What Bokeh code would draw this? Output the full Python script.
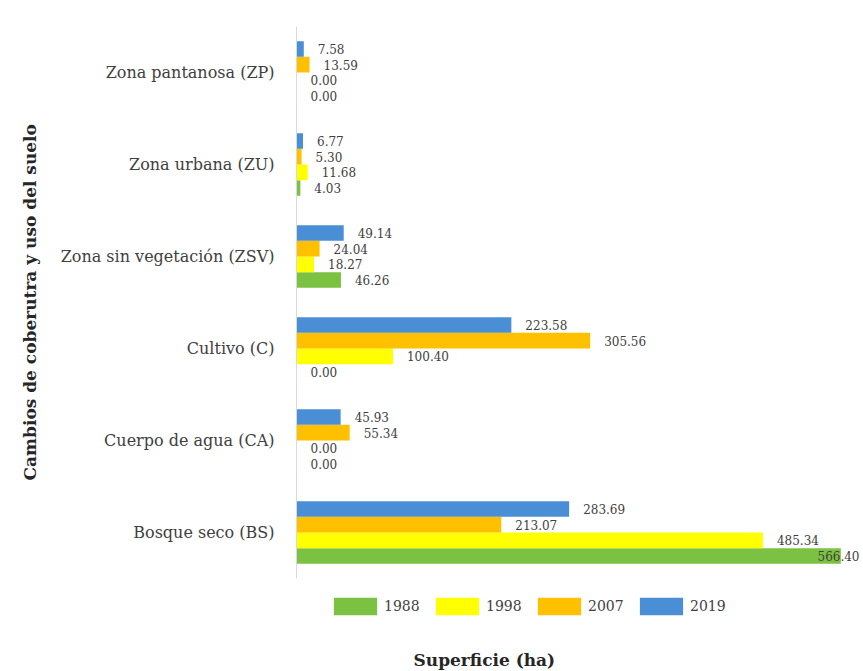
from bokeh.plotting import figure
from bokeh.models import (ColumnDataSource, Range1d, Legend, LegendItem, Label,
                          FixedTicker, Title)
from bokeh.transform import dodge
from bokeh.embed import file_html
from bokeh.resources import INLINE
from bokeh.core.properties import value

# Land cover / land use classes, bottom to top on the axis
categories = ["Bosque seco (BS)", "Cuerpo de agua (CA)", "Cultivo (C)",
              "Zona sin vegetación (ZSV)", "Zona urbana (ZU)", "Zona pantanosa (ZP)"]

# Surface (ha) per year, same order as categories
ha_1988 = [566.40, 0.00, 0.00, 46.26, 4.03, 0.00]
ha_1998 = [485.34, 0.00, 100.40, 18.27, 11.68, 0.00]
ha_2007 = [213.07, 55.34, 305.56, 24.04, 5.30, 13.59]
ha_2019 = [283.69, 45.93, 223.58, 49.14, 6.77, 7.58]

years = ["1988", "1998", "2007", "2019"]
colors = ["#7CC242", "#FFFF00", "#FFC000", "#4A8FD6"]
series = [ha_1988, ha_1998, ha_2007, ha_2019]

FONT = "DejaVu Serif"
W, H = 863, 671
LEFT, TOP = 296, 26
BAND_PX = 92          # pixel height of one category band
FOOT_PX = 93          # room under the bars for legend and axis title
X_MAX = 590
frame_w = W - LEFT
pos = list(range(len(categories)))
bar_h = 0.17
offsets = [-1.5 * bar_h, -0.5 * bar_h, 0.5 * bar_h, 1.5 * bar_h]

y_lo, y_hi = -0.5, len(categories) - 0.5
p = figure(width=W, height=H,
           y_range=Range1d(y_lo - FOOT_PX / BAND_PX, y_hi),
           x_range=Range1d(0, X_MAX), output_backend="svg", toolbar_location=None,
           min_border_left=LEFT, min_border_top=TOP, min_border_bottom=0,
           min_border_right=0)
p.outline_line_color = None
p.grid.visible = False
p.background_fill_color = "white"
p.border_fill_color = "white"

items = []
for yr, col, vals, off in zip(years, colors, series, offsets):
    # data labels sit just past the bar end; a label that would run off the
    # right edge is pulled back over its bar
    lab_off = []
    for v in vals:
        px = v / X_MAX * frame_w
        lab_off.append(14 if px + 14 + 44 < frame_w else frame_w - px - 46)
    src = ColumnDataSource(dict(pos=pos, val=vals,
                                txt=[f"{v:.2f}" for v in vals], xo=lab_off))
    r = p.hbar(y=dodge("pos", off), right="val", left=0,
               height=bar_h, fill_color=col, line_color=None, source=src)
    p.text(x="val", y=dodge("pos", off), text="txt", x_offset="xo",
           text_font=value(FONT), text_font_size="12px", text_color="#404040",
           text_baseline="middle", source=src)
    items.append(LegendItem(label=yr, renderers=[r]))

p.xaxis.visible = False
ya = p.yaxis[0]
ya.ticker = FixedTicker(ticks=pos)
ya.major_label_overrides = {i: c for i, c in zip(pos, categories)}
ya.bounds = (y_lo, y_hi)
ya.axis_line_color = "#D9D9D9"
ya.major_tick_line_color = None
ya.minor_tick_line_color = None
ya.major_label_standoff = 16
ya.major_label_text_font = FONT
ya.major_label_text_font_size = "16px"
ya.major_label_text_color = "#404040"

# vertical axis title, centred on the bar area rather than the whole frame
p.add_layout(Title(text="Cambios de coberutra y uso del suelo", align="left",
                   offset=191, standoff=35, text_font=FONT, text_font_size="17px",
                   text_font_style="bold", text_color="#262626"), "left")

legend = Legend(items=items, orientation="horizontal", location=(32, 54),
                glyph_width=54, glyph_height=22, label_standoff=2, spacing=9,
                label_width=37, padding=0, margin=0,
                label_text_font=FONT, label_text_font_size="14px",
                label_text_color="#404040", border_line_color=None,
                background_fill_alpha=0)
p.add_layout(legend, "center")

p.add_layout(Label(x=117, y=12, x_units="screen", y_units="screen",
                   text="Superficie (ha)", text_font=FONT, text_font_size="17px",
                   text_font_style="bold", text_color="#262626",
                   text_baseline="middle"))

open("out.html", "w").write(file_html(p, INLINE))
